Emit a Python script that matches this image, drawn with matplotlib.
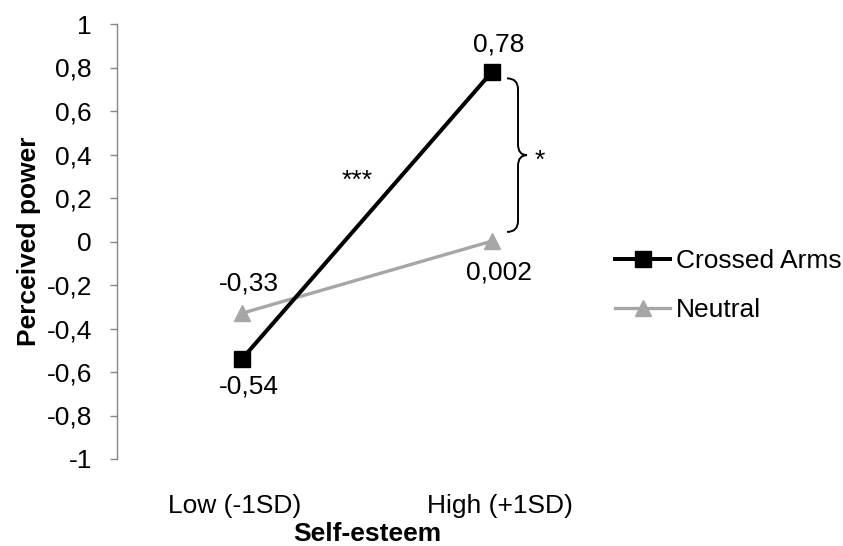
import matplotlib
matplotlib.use("Agg")
import matplotlib.pyplot as plt
import matplotlib.transforms as mtransforms
from matplotlib.path import Path
from matplotlib.patches import PathPatch

plt.rcParams['font.family'] = ['Liberation Sans', 'DejaVu Sans']
FS = 19

categories = ['Low (-1SD)', 'High (+1SD)']
crossed = [-0.54, 0.78]
neutral = [-0.33, 0.002]
crossed_labels = ['-0,54', '0,78']
neutral_labels = ['-0,33', '0,002']
yticks = [-1, -0.8, -0.6, -0.4, -0.2, 0, 0.2, 0.4, 0.6, 0.8, 1]
ytick_labels = ['-1', '-0,8', '-0,6', '-0,4', '-0,2', '0', '0,2', '0,4', '0,6', '0,8', '1']

W, H = 843, 546
fig = plt.figure(figsize=(W / 100, H / 100), dpi=100)
ax = fig.add_axes([117 / W, (H - 459) / H, 500 / W, 435 / H])

x = list(range(len(categories)))
ax.plot(x, crossed, color='black', lw=2.9, marker='s', ms=11.5,
        label='Crossed Arms', clip_on=False, zorder=3)
ax.plot(x, neutral, color='#A6A6A6', lw=2.4, marker='^', ms=11,
        label='Neutral', clip_on=False, zorder=2)

# data labels
for xi, v, t in zip(x, crossed, crossed_labels):
    dy = 27 if v > 0 else -28
    ax.annotate(t, (xi, v), xytext=(5, dy * 0.72), textcoords='offset points',
                ha='center', va='center', fontsize=FS)
for xi, v, t in zip(x, neutral, neutral_labels):
    dy = 30 if xi == 0 else -31
    ax.annotate(t, (xi, v), xytext=(5, dy * 0.72), textcoords='offset points',
                ha='center', va='center', fontsize=FS)

ax.set_xlim(-0.5, 1.5)
ax.set_ylim(-1, 1)
ax.set_yticks(yticks)
ax.set_yticklabels(ytick_labels)
ax.set_xticks(x)
ax.set_xticklabels(categories)
ax.tick_params(axis='y', direction='out', length=5, width=1, color='#868686',
               pad=13, labelsize=FS)
ax.tick_params(axis='x', length=0, pad=25, labelsize=FS)
# Excel-ish label offsets
for lbl, dx in zip(ax.get_xticklabels(), [-7, 8]):
    lbl.set_transform(lbl.get_transform() +
                      mtransforms.ScaledTranslation(dx / 100, 0, fig.dpi_scale_trans))

for s in ['top', 'right', 'bottom']:
    ax.spines[s].set_visible(False)
ax.spines['left'].set_color('#868686')
ax.spines['left'].set_linewidth(1)

ax.set_ylabel('Perceived power', fontsize=FS, fontweight='bold', labelpad=4)
ax.set_xlabel('Self-esteem', fontsize=FS, fontweight='bold', labelpad=3)

# significance marks
ax.text(0.46, 0.28, '***', ha='center', va='center', fontsize=FS)
b_top, b_bot = 0.75, 0.044
b_mid = (b_top + b_bot) / 2
x0, x1, x2 = 1.06, 1.104, 1.14
r = 0.05
verts = [(x0, b_top), (x1, b_top), (x1, b_top - r),
         (x1, b_mid + r),
         (x1, b_mid), (x2, b_mid), (x2, b_mid), (x1, b_mid), (x1, b_mid - r),
         (x1, b_bot + r),
         (x1, b_bot), (x0, b_bot)]
codes = [Path.MOVETO, Path.CURVE3, Path.CURVE3,
         Path.LINETO,
         Path.CURVE3, Path.CURVE3, Path.MOVETO, Path.CURVE3, Path.CURVE3,
         Path.LINETO,
         Path.CURVE3, Path.CURVE3]
ax.add_patch(PathPatch(Path(verts, codes), fill=False, lw=1.4, color='black',
                       clip_on=False))
ax.text(1.19, 0.37, '*', ha='center', va='center', fontsize=FS)

fig.legend(loc='upper left', bbox_to_anchor=(615 / W, 1 - 249 / H), frameon=False,
           fontsize=FS, handlelength=2.1, handletextpad=0.2, labelspacing=0.95,
           borderpad=0, borderaxespad=0)

fig.savefig('out.png', dpi=100)
